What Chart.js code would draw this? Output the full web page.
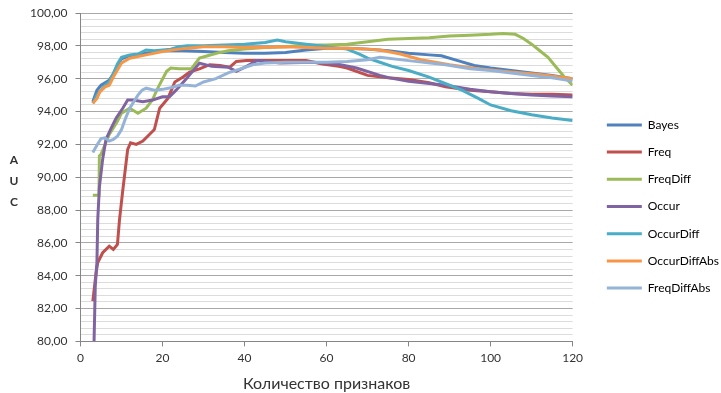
<!DOCTYPE html>
<html>
<head>
<meta charset="utf-8">
<script src="https://cdn.jsdelivr.net/npm/chart.js@4/dist/chart.umd.min.js"></script>
<style>
html,body{margin:0;padding:0;background:#fff;}
#wrap{width:721px;height:393px;position:relative;}
</style>
</head>
<body>
<div id="wrap"><canvas id="c"></canvas></div>
<script>
// ---- data ----
const seriesNames = ['Bayes','Freq','FreqDiff','Occur','OccurDiff','OccurDiffAbs','FreqDiffAbs'];
const seriesColors = ['#4F81BD','#C0504D','#9BBB59','#8064A2','#4BACC6','#F79646','#95B3D7'];

const bayesX = [3,4,5,7,8,9,10,12,16,20,25,30,35,40,45,50,55,60,65,70,75,80,85,88,92,96,100,105,110,115,120];
const bayesY = [94.6,95.3,95.6,95.9,96.3,96.8,97.2,97.4,97.55,97.7,97.7,97.65,97.6,97.55,97.55,97.6,97.75,97.85,97.85,97.8,97.7,97.55,97.45,97.4,97.1,96.8,96.65,96.5,96.35,96.2,96.0];

const freqX = [3,3.8,4.2,5.4,7,8,9,9.5,10.3,11.5,12.2,13.6,15.2,16.8,18,19.3,21.3,23,25,26.6,29,31.5,34,36.4,38,40.5,45,50,55,59,63,65,70,75,80,85,89,95,100,105,110,115,120];
const freqY = [82.45,84.2,84.8,85.4,85.8,85.6,85.9,87.4,89.2,91.7,92.1,92.0,92.2,92.6,92.9,94.2,94.8,95.8,96.1,96.4,96.6,96.85,96.8,96.7,97.05,97.1,97.1,97.1,97.1,96.9,96.75,96.65,96.2,96.05,95.95,95.75,95.5,95.3,95.2,95.1,95.05,95.05,95.0];

const freqDiffX = [3,4.5,4.6,5,6,7,8,9,10,12,14,16,17.5,19,21,22,24,27,29,31,34,36,40,45,50,55,60,65,70,75,80,85,90,95,100,103,106,108,110,112,114,116,118,120];
const freqDiffY = [88.9,88.9,91.3,91.4,92.0,92.6,93.0,93.4,93.9,94.2,93.9,94.2,94.7,95.5,96.45,96.65,96.6,96.6,97.25,97.4,97.6,97.7,97.8,97.9,97.95,98.05,98.05,98.1,98.25,98.4,98.45,98.5,98.6,98.65,98.7,98.75,98.7,98.45,98.1,97.7,97.3,96.7,96.1,95.6];

const occurX = [3.3,3.6,4,4.2,4.6,5.4,6.2,7.5,8.7,10.3,11.5,12.8,15.2,17.6,20,21.7,23.3,25.8,29,32,36,38,40.5,43,48.6,56.7,62.5,67.3,73,75.4,80,89,95,100,105,110,115,120];
const occurY = [80.0,83.4,84.8,87.4,89.4,91.1,92.3,93.0,93.6,94.2,94.7,94.7,94.6,94.7,94.9,94.9,95.3,96.0,96.95,96.75,96.7,96.45,96.75,97.1,96.95,97.0,96.9,96.65,96.2,96.05,95.85,95.6,95.35,95.2,95.1,95.0,94.95,94.9];

const occurDiffX = [3,4,5,6,7,8,9,10,12,14,16,18,20,22,24,26,30,35,40,45,48,50,55,60,65,68,70,73,76,80,85,90,93,97,100,105,110,115,120];
const occurDiffY = [94.5,95.0,95.3,95.6,95.8,96.3,96.9,97.3,97.45,97.5,97.75,97.7,97.75,97.8,97.95,98.0,98.0,98.05,98.1,98.2,98.35,98.25,98.1,97.95,97.8,97.5,97.25,97.0,96.75,96.5,96.1,95.6,95.3,94.8,94.4,94.05,93.8,93.6,93.45];

const occurDiffAbsX = [3,4,4.7,6,7,8,10,12,16,20,24,28,30,35,40,45,50,55,60,65,70,73,78,83,90,97,105,112,120];
const occurDiffAbsY = [94.5,94.8,95.2,95.5,95.6,96.1,96.95,97.25,97.45,97.65,97.8,97.9,97.95,97.95,97.9,97.9,97.95,97.9,97.85,97.85,97.8,97.75,97.5,97.15,96.85,96.6,96.4,96.25,96.0];

const freqDiffAbsX = [3,4,5,6,7,8,9,10,11,12,13,14,15,16,18,20,22,24,26,28,30,33,36,39,42,45,50,55,60,65,70,73,80,89,95,100,105,110,115,120];
const freqDiffAbsY = [91.5,91.95,92.35,92.4,92.2,92.3,92.5,92.9,93.6,94.2,94.6,95.0,95.3,95.42,95.3,95.35,95.45,95.6,95.6,95.55,95.8,96.0,96.35,96.6,96.85,96.95,97.0,97.0,97.0,97.05,97.15,97.3,97.1,96.85,96.6,96.5,96.35,96.2,96.05,95.85];

const xTickStep = 20;
const yMajorStep = 2;
const yMinorStep = 0.4;
const yTitleLetters = ['A','U','C'];
const xTitle = 'Количество признаков';

// ---- build datasets ----
const allX = [bayesX,freqX,freqDiffX,occurX,occurDiffX,occurDiffAbsX,freqDiffAbsX];
const allY = [bayesY,freqY,freqDiffY,occurY,occurDiffY,occurDiffAbsY,freqDiffAbsY];
const datasets = seriesNames.map((name,i)=>({
  label: name,
  data: allX[i].map((x,k)=>({x:x, y:allY[i][k]})),
  borderColor: seriesColors[i],
  backgroundColor: seriesColors[i],
  borderWidth: 3,
  pointRadius: 0,
  tension: 0,
  fill: false,
  order: seriesNames.length - i
}));

const FONT = 'Lato, "Open Sans", sans-serif';
const TXT = '#333333';
const isMajor = v => Math.abs(v/yMajorStep - Math.round(v/yMajorStep)) < 1e-6;

// legend spacing: extra gap left of the legend, and a small downward shift
const LEGEND_FIT_EXTRA = 11;
const LEGEND_SHIFT_X = 19;
const LEGEND_SHIFT_Y = 10;
const legendGapPlugin = {
  id: 'legendGap',
  beforeLayout(chart){
    const lg = chart.legend;
    if (!lg || lg._gapPatched) return;
    lg._gapPatched = true;
    const fit = lg.fit.bind(lg);
    lg.fit = function(){ fit(); if (!this.isHorizontal()) this.width += LEGEND_FIT_EXTRA; };
    const draw = lg.draw.bind(lg);
    lg.draw = function(){
      this.left += LEGEND_SHIFT_X; this.right += LEGEND_SHIFT_X;
      this.top += LEGEND_SHIFT_Y; this.bottom += LEGEND_SHIFT_Y;
      draw();
      this.left -= LEGEND_SHIFT_X; this.right -= LEGEND_SHIFT_X;
      this.top -= LEGEND_SHIFT_Y; this.bottom -= LEGEND_SHIFT_Y;
    };
  }
};

const aucPlugin = {
  id: 'aucTitle',
  afterDraw(chart){
    const ctx = chart.ctx;
    ctx.save();
    ctx.fillStyle = TXT;
    ctx.font = 'bold 12px ' + FONT;
    ctx.textAlign = 'center';
    ctx.textBaseline = 'middle';
    yTitleLetters.forEach((ch,i)=>ctx.fillText(ch, 14, 160 + i*21));
    ctx.restore();
  }
};

new Chart(document.getElementById('c'), {
  type: 'line',
  data: { datasets },
  plugins: [legendGapPlugin, aucPlugin],
  options: {
    responsive: true,
    maintainAspectRatio: false,
    animation: false,
    layout: { padding: { left: 22, top: 0, right: 0, bottom: 0 } },
    plugins: {
      tooltip: { enabled: false },
      legend: {
        position: 'right',
        align: 'center',
        labels: {
          boxWidth: 35,
          boxHeight: 3,
          padding: 15.2,
          color: TXT,
          font: { family: FONT, size: 12 },
          generateLabels: (chart) => chart.data.datasets.map((d,i)=>({
            text: d.label,
            fillStyle: d.borderColor,
            strokeStyle: d.borderColor,
            lineWidth: 0,
            hidden: false,
            datasetIndex: i
          }))
        }
      }
    },
    scales: {
      x: {
        type: 'linear',
        min: 0, max: 120,
        border: { color: '#868686', width: 1 },
        grid: { drawOnChartArea: false, drawTicks: true, tickLength: 5, tickColor: '#868686' },
        ticks: { stepSize: xTickStep, color: TXT, font: { family: FONT, size: 12 }, padding: 5, maxRotation: 0 },
        title: { display: true, text: xTitle, color: TXT, font: { family: FONT, size: 16 }, padding: { top: 3, bottom: 0 } }
      },
      y: {
        type: 'linear',
        min: 80, max: 100,
        border: { color: '#868686', width: 1 },
        afterFit: s => { s.paddingTop = 13; },
        grid: {
          color: ctx => isMajor(ctx.tick.value) ? '#a8a8a8' : '#dcdcdc',
          tickColor: ctx => isMajor(ctx.tick.value) ? '#868686' : 'rgba(0,0,0,0)',
          tickLength: 5,
          lineWidth: 1
        },
        ticks: {
          stepSize: yMinorStep,
          autoSkip: false,
          maxTicksLimit: 100,
          padding: 8,
          color: TXT,
          font: { family: FONT, size: 12 },
          callback: v => isMajor(v) ? (Math.round(v)).toFixed(2).replace('.', ',') : ''
        }
      }
    }
  }
});
</script>
</body>
</html>
